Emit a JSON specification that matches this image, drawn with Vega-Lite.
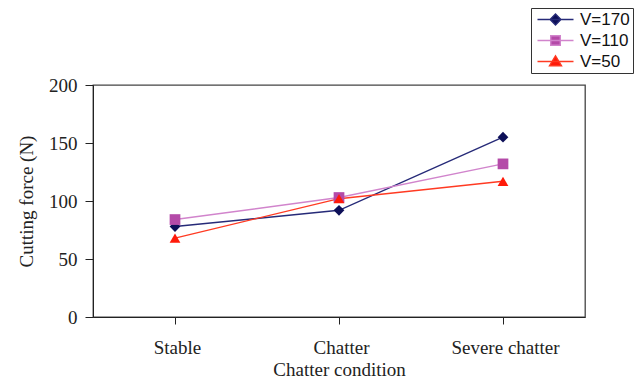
{
  "$schema": "https://vega.github.io/schema/vega-lite/v6.json",
  "width": 492,
  "height": 232,
  "autosize": {"type": "none"},
  "padding": {"left": 93, "top": 85, "right": 58, "bottom": 66},
  "background": "white",
  "config": {
    "view": {"stroke": "#444", "strokeWidth": 1.3},
    "axis": {
      "labelFont": "Liberation Serif",
      "titleFont": "Liberation Serif",
      "labelFontSize": 19,
      "titleFontSize": 19,
      "titleFontWeight": "normal",
      "labelColor": "#222",
      "titleColor": "#222",
      "domainColor": "#222",
      "tickColor": "#222",
      "grid": false
    }
  },
  "data": {
    "values": [
      {"condition": "Stable", "series": "V=170", "force": 78},
      {"condition": "Chatter", "series": "V=170", "force": 92},
      {"condition": "Severe chatter", "series": "V=170", "force": 155},
      {"condition": "Stable", "series": "V=110", "force": 84},
      {"condition": "Chatter", "series": "V=110", "force": 103},
      {"condition": "Severe chatter", "series": "V=110", "force": 132},
      {"condition": "Stable", "series": "V=50", "force": 68},
      {"condition": "Chatter", "series": "V=50", "force": 102},
      {"condition": "Severe chatter", "series": "V=50", "force": 117}
    ]
  },
  "encoding": {
    "x": {
      "field": "condition",
      "type": "ordinal",
      "sort": ["Stable", "Chatter", "Severe chatter"],
      "scale": {"type": "point", "padding": 0.5},
      "title": "Chatter condition",
      "axis": {"labelAngle": 0, "tickSize": 7, "labelPadding": 14, "titlePadding": 3, "labelOffset": 2}
    },
    "y": {
      "field": "force",
      "type": "quantitative",
      "scale": {"domain": [0, 200]},
      "title": "Cutting force (N)",
      "axis": {"values": [0, 50, 100, 150, 200], "tickSize": 8, "labelPadding": 8, "titlePadding": 12}
    }
  },
  "layer": [
    {
      "mark": {"type": "line", "strokeWidth": 1.4},
      "encoding": {
        "stroke": {
          "field": "series",
          "type": "nominal",
          "scale": {"domain": ["V=170", "V=110", "V=50"], "range": ["#262a78", "#d184cc", "#ff3a22"]},
          "legend": {
            "orient": "none",
            "legendX": 438,
            "legendY": -77,
            "title": null,
            "strokeColor": "#333",
            "fillColor": "white",
            "padding": 3,
            "labelFont": "Liberation Sans",
            "labelFontSize": 17,
            "labelColor": "#111",
            "symbolSize": 144,
            "symbolOffset": 13,
            "symbolStrokeWidth": 1.4,
            "labelOffset": 16,
            "rowPadding": 3,
            "encode": {
              "symbols": {
                "update": {
                  "shape": {"signal": "datum.value === 'V=170' ? 'M-3,0L3,0M0,-0.9L0.9,0L0,0.9L-0.9,0Z' : datum.value === 'V=110' ? 'M-3,0L3,0M-0.8,-0.8L0.8,-0.8L0.8,0.8L-0.8,0.8Z' : 'M-3,0L3,0M0,-0.95L1,0.7L-1,0.7Z'"},
                  "fill": {"signal": "datum.value === 'V=170' ? '#0d0f58' : datum.value === 'V=110' ? '#b44aa8' : '#ff1a0a'"},
                  "stroke": {"signal": "datum.value === 'V=170' ? '#262a78' : datum.value === 'V=110' ? '#d184cc' : '#ff3a22'"},
                  "strokeWidth": {"value": 1.4},
                  "opacity": {"value": 1}
                }
              }
            }
          }
        },
        "detail": {"field": "series"}
      }
    },
    {
      "mark": {"type": "point", "filled": true, "opacity": 1, "size": 115},
      "encoding": {
        "fill": {
          "condition": [
            {"test": "datum.series === 'V=170'", "value": "#0d0f58"},
            {"test": "datum.series === 'V=110'", "value": "#b44aa8"}
          ],
          "value": "#ff1a0a"
        },
        "shape": {
          "condition": [
            {"test": "datum.series === 'V=170'", "value": "diamond"},
            {"test": "datum.series === 'V=110'", "value": "square"}
          ],
          "value": "triangle-up"
        }
      }
    }
  ]
}
